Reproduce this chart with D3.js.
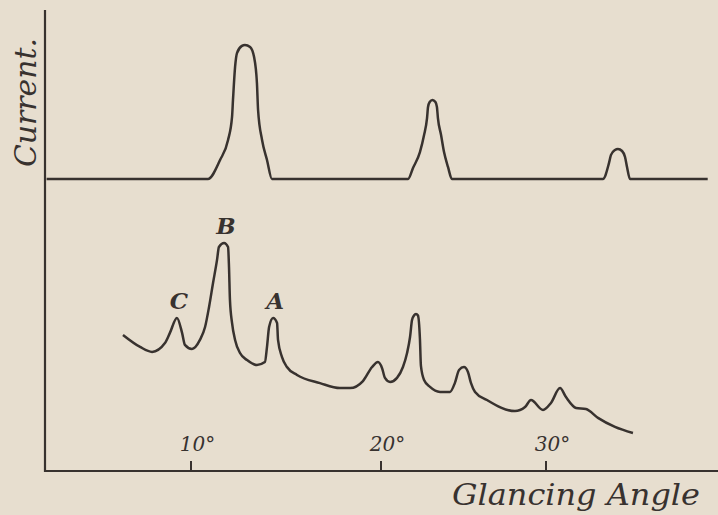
<!DOCTYPE html>
<html><head><meta charset="utf-8">
<script src="https://cdn.jsdelivr.net/npm/d3@7"></script>
<style>html,body{margin:0;padding:0;background:#e7decf;} svg{display:block}</style>
</head><body>
<svg id="chart" width="718" height="515"></svg>
<script>
// ---- data ----
const tickDegrees = [10, 20, 30];
const tickLabels = ["10°", "20°", "30°"];
const peakLabels = ["C", "B", "A"];
const peakLabelAngles = [9.26, 11.74, 14.32];
const peakLabelValues = [67.7, 100.9, 67.7];

// upper trace (current vs glancing angle)
const topAngles = [2.4, 10.89, 11.53, 11.95, 12.16, 12.21, 12.32, 12.42, 12.68, 12.84, 13.11, 13.32, 13.47, 13.53, 13.74, 14.0, 14.26,
  21.64, 21.94, 22.36, 22.61, 22.79, 22.85, 22.95, 23.12, 23.3, 23.39, 23.45, 23.64, 23.82, 24.06, 24.30,
  33.45, 33.82, 33.94, 34.18, 34.36, 34.61, 34.79, 34.91, 35.09, 39.8];
const topCurrent = [0, 0, 14.2, 29.1, 46.3, 59, 83.6, 94, 99.3, 100, 98.5, 91, 71.6, 51.5, 29.1, 14.2, 0,
  0, 8.2, 20.1, 32.8, 45.5, 53.7, 57.5, 59, 57.5, 53.7, 45.5, 32.8, 20.1, 9, 0,
  0, 12, 18, 21.6, 22.4, 20.9, 16.4, 9, 0, 0];

// lower trace
const bottomAngles = [6.42, 7.32, 7.95, 8.63, 8.89, 9.26, 9.53, 9.68, 10.05, 10.47, 10.74, 10.95, 11.16, 11.37, 11.47, 11.74,
  11.95, 12.0, 12.05, 12.16, 12.32, 12.58, 12.95, 13.47, 13.89, 14.0, 14.11, 14.32, 14.53, 14.58, 14.79, 15.05, 15.58,
  16.79, 17.84, 18.37, 19.05, 19.53, 19.84, 20.06, 20.24, 20.55, 20.97, 21.33, 21.58, 21.76, 21.88, 22.0, 22.12, 22.24,
  22.36, 22.42, 22.61, 22.97, 23.58, 24.18, 24.48, 24.73, 25.03, 25.27, 25.45, 25.70, 26.42, 28.12, 28.73,
  29.09, 29.82, 30.30, 30.85, 31.21, 31.82, 32.42, 33.15, 34.18, 35.27];
const bottomCurrent = [60.2, 54.9, 52.7, 56.6, 61.1, 67.7, 61.1, 55.8, 54.0, 58.0, 63.7, 72.6, 83.2, 93.4, 99.1, 100.9,
  99.1, 90.3, 75.7, 65.5, 58.0, 52.2, 49.1, 46.9, 48.2, 54.9, 63.7, 67.7, 65.5, 58.0, 50.4, 46.0, 42.5,
  38.9, 36.7, 36.7, 39.8, 46.0, 48.2, 45.6, 41.2, 39.4, 41.2, 46.0, 52.2, 59.3, 66.8, 68.8, 69.5, 68.8,
  58.4, 46.5, 40.3, 37.2, 35.0, 35.0, 39.0, 44.7, 46.0, 43.8, 39.0, 35.0, 31.4, 26.5, 28.3,
  31.4, 27.0, 30.1, 36.7, 32.7, 27.9, 27.4, 23.5, 19.5, 16.8];

// ---- drawing ----
const ink = "#38322f";
const svg = d3.select("#chart");
svg.append("rect").attr("width", 718).attr("height", 515).attr("fill", "#e7decf");

const x = d3.scaleLinear().domain(tickDegrees).range([191, 381, 546]);
const yTop = d3.scaleLinear().domain([0, 100]).range([179, 45]);
const yBot = d3.scaleLinear().domain([0, 100]).range([471, 245]);

// frame lines
svg.append("line").attr("x1", 45).attr("x2", 45).attr("y1", 10).attr("y2", 472)
  .attr("stroke", ink).attr("stroke-width", 2.2);
svg.append("line").attr("x1", 44).attr("x2", 718).attr("y1", 471).attr("y2", 471)
  .attr("stroke", ink).attr("stroke-width", 2.2);

// axis labels via d3 axis
const axis = d3.axisTop(x).tickValues(tickDegrees)
  .tickFormat((d, i) => tickLabels[i]).tickSize(0).tickPadding(20);
const ag = svg.append("g").attr("transform", "translate(0,471)").attr("color", ink).call(axis);
ag.select(".domain").remove();
ag.selectAll(".tick text").attr("fill", ink).attr("dx", 6)
  .style("font-family", "'DejaVu Serif', serif").style("font-style", "italic")
  .style("font-size", "20px");

// tick marks
svg.append("g").selectAll("line").data(tickDegrees).enter().append("line")
  .attr("x1", d => x(d)).attr("x2", d => x(d)).attr("y1", 461).attr("y2", 471)
  .attr("stroke", ink).attr("stroke-width", 2);

const lineTop = d3.line().x((d, i) => x(topAngles[i])).y(d => yTop(d)).curve(d3.curveMonotoneX);
const lineBot = d3.line().x((d, i) => x(bottomAngles[i])).y(d => yBot(d)).curve(d3.curveMonotoneX);

svg.append("path").attr("d", lineTop(topCurrent)).attr("fill", "none")
  .attr("stroke", ink).attr("stroke-width", 2.5).attr("stroke-linejoin", "round");
svg.append("path").attr("d", lineBot(bottomCurrent)).attr("fill", "none")
  .attr("stroke", ink).attr("stroke-width", 2.5).attr("stroke-linejoin", "round");

// peak labels
svg.selectAll("text.peak").data(peakLabels).enter().append("text").attr("class", "peak")
  .attr("x", (d, i) => x(peakLabelAngles[i]) + 2)
  .attr("y", (d, i) => yBot(peakLabelValues[i]) - 9)
  .attr("text-anchor", "middle").attr("fill", ink)
  .style("font-family", "'DejaVu Serif', serif").style("font-style", "italic").style("font-weight", "bold")
  .style("font-size", "23px").text(d => d);

// axis titles
svg.append("text").attr("x", 700).attr("y", 505).attr("text-anchor", "end").attr("fill", ink)
  .attr("textLength", 248).attr("lengthAdjust", "spacingAndGlyphs")
  .style("font-family", "'DejaVu Serif', serif").style("font-style", "italic")
  .style("font-size", "29px").text("Glancing Angle");
svg.append("text").attr("transform", "translate(36,167) rotate(-90)").attr("text-anchor", "start").attr("fill", ink)
  .attr("textLength", 129).attr("lengthAdjust", "spacingAndGlyphs")
  .style("font-family", "'DejaVu Serif', serif").style("font-style", "italic")
  .style("font-size", "29px").text("Current.");
</script>
</body></html>
